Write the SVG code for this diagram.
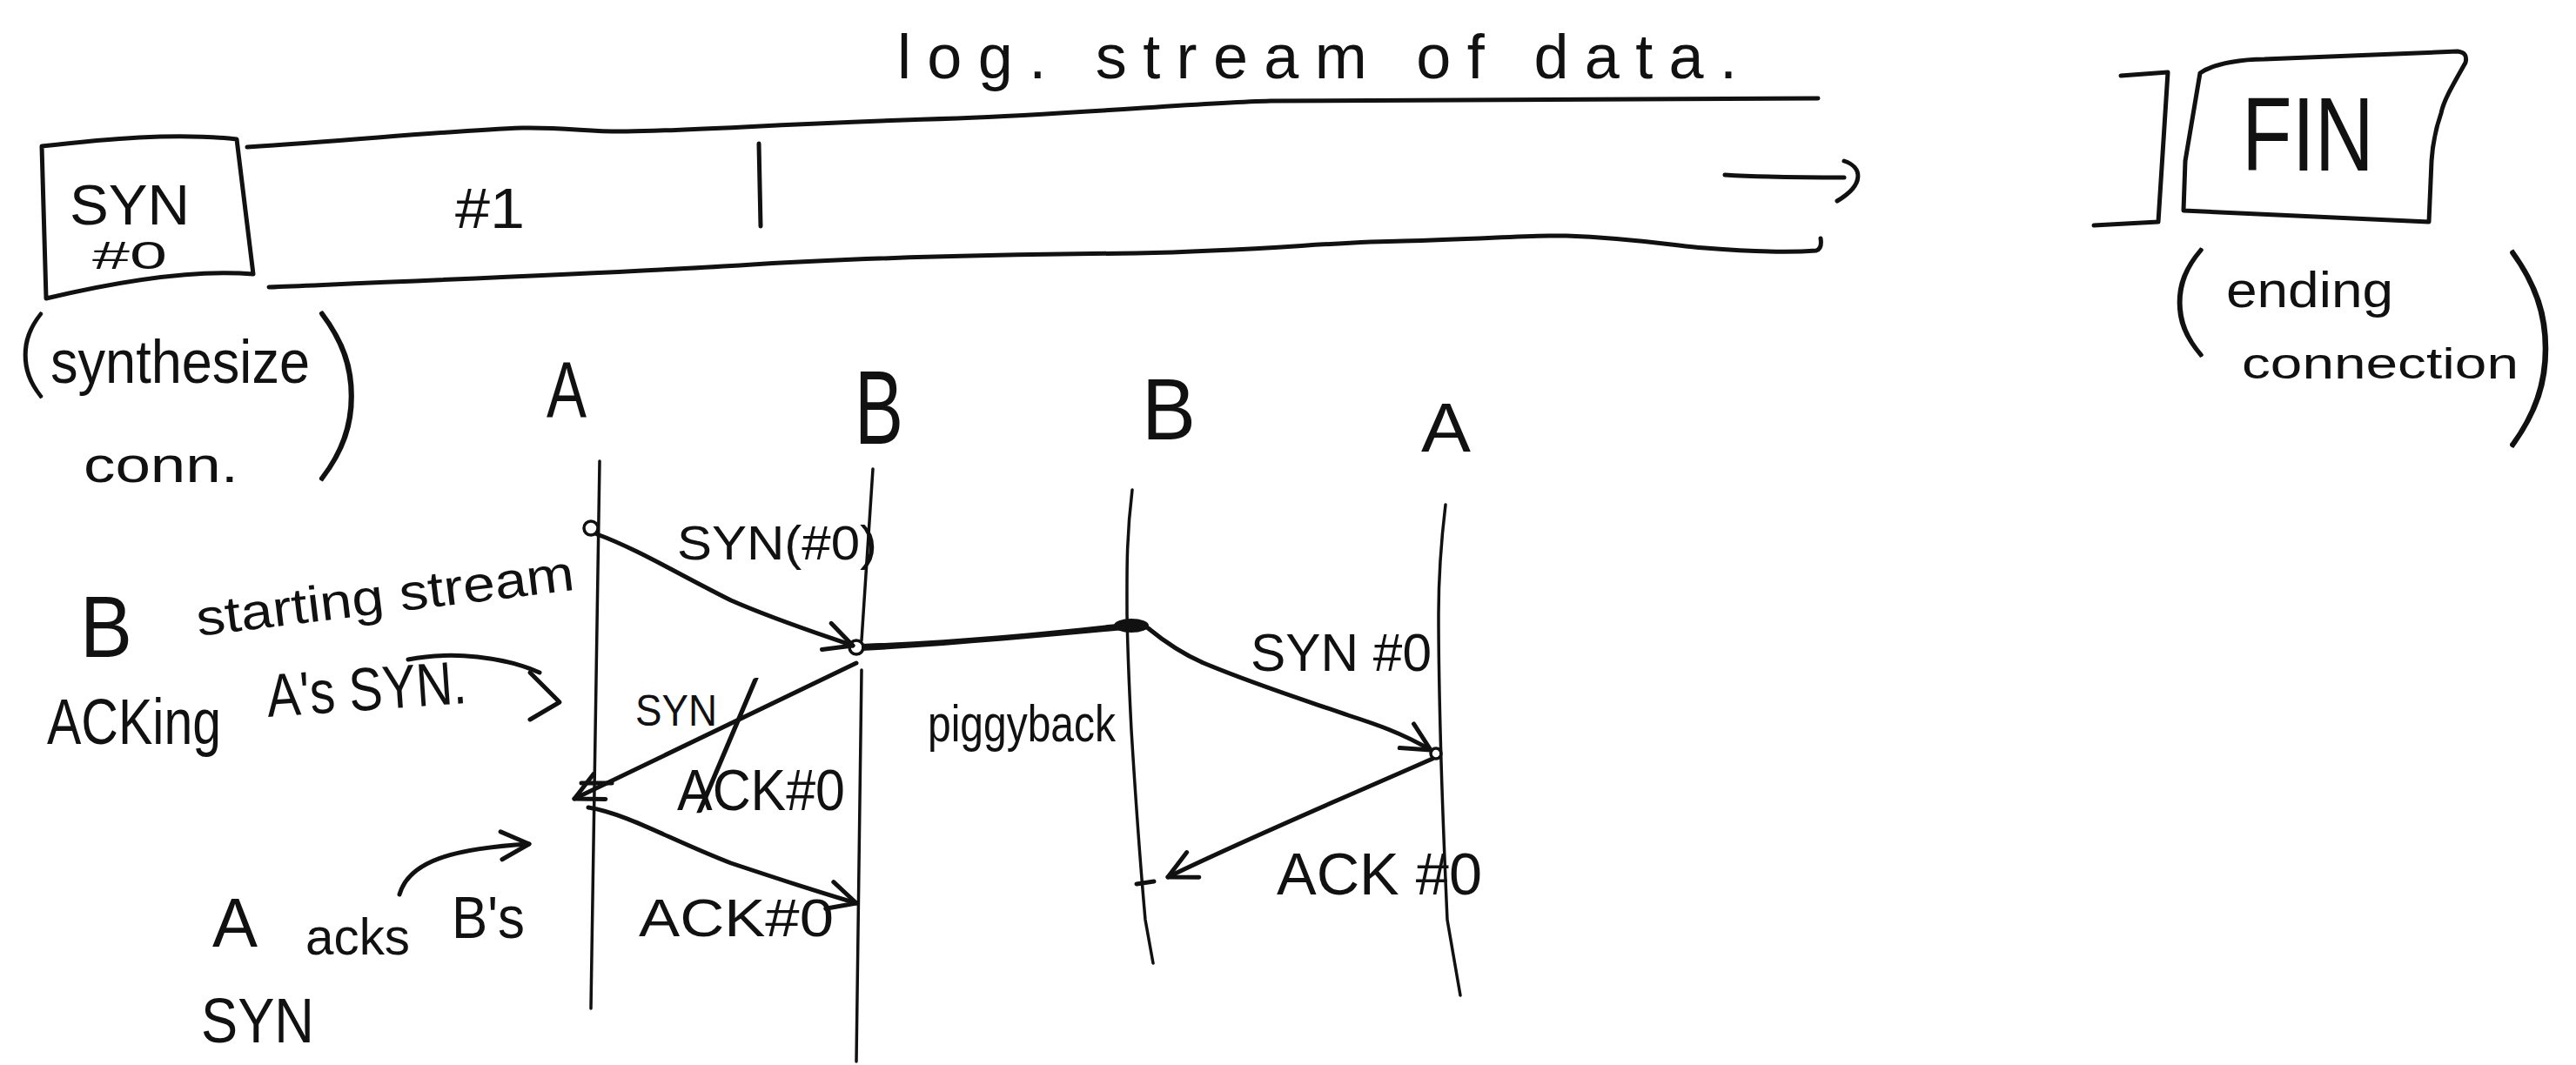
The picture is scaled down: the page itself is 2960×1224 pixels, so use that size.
<svg xmlns="http://www.w3.org/2000/svg" width="2960" height="1224" viewBox="0 0 2960 1224">
<style>
.t{font-family:"Liberation Sans",sans-serif;fill:#111}
.p{font-family:Lato,"Liberation Sans",sans-serif;font-weight:100;fill:#111;stroke:#111;stroke-width:3}
.s{fill:none;stroke:#111;stroke-width:5;stroke-linecap:round;stroke-linejoin:round}
.l{fill:none;stroke:#111;stroke-width:3.5;stroke-linecap:round}
</style>
<defs>
<marker id="arr" viewBox="0 0 20 20" refX="18" refY="10" markerWidth="40" markerHeight="40" markerUnits="userSpaceOnUse" orient="auto">
<path d="M2,2 L18,10 L2,18" fill="none" stroke="#111" stroke-width="2.5" stroke-linecap="round" stroke-linejoin="round"/>
</marker>
</defs>
<rect width="2960" height="1224" fill="#fff"/>

<g id="stream">
<path class="s" d="M284,169 C420,160 520,150 600,147 C650,146 680,152 720,151 C800,150 900,142 1100,136 C1250,130 1380,118 1460,116 L2089,113"/>
<path class="s" d="M309,330 C500,322 700,314 850,305 C1000,295 1200,292 1306,291 C1450,288 1530,278 1612,277 C1700,275 1760,270 1800,271 C1880,274 1920,282 1959,285 C2010,289 2060,290 2087,288 C2093,286 2093,280 2092,274"/>
<path class="s" d="M872,165 L874,260"/>
<path class="s" d="M1982,201 C2030,204 2080,204 2119,204"/>
<path class="s" d="M2119,185 C2140,192 2143,212 2111,231"/>
<text class="t" x="1031" y="90" font-size="72" textLength="965" lengthAdjust="spacing">log. stream of data.</text>
<text class="t" x="523" y="262" font-size="64" textLength="80" lengthAdjust="spacingAndGlyphs">#1</text>
</g>

<g id="syn-box">
<path class="s" d="M48,168 C120,160 200,152 272,160 L291,315 C230,310 150,320 53,343 Z"/>
<text class="t" x="80" y="258" font-size="64" textLength="138" lengthAdjust="spacingAndGlyphs">SYN</text>
<text class="t" x="106" y="309" font-size="44" textLength="86" lengthAdjust="spacingAndGlyphs">#0</text>
</g>

<g id="synthesize-note">
<text class="p" x="0" y="0" font-size="110" transform="translate(20,443) scale(1.2,1)">(</text>
<text class="t" x="58" y="440" font-size="70" textLength="298" lengthAdjust="spacingAndGlyphs">synthesize</text>
<text class="t" x="96" y="554" font-size="58" textLength="178" lengthAdjust="spacingAndGlyphs">conn.</text>
<text class="p" x="0" y="0" font-size="220" transform="translate(358,525) scale(1.15,1)">)</text>
</g>

<g id="fin-end">
<path class="s" d="M2437,87 L2491,83 L2480,255 L2406,259"/>
<path class="s" d="M2528,84 C2545,72 2580,68 2602,68 L2824,59 C2832,60 2835,64 2833,72 C2820,95 2808,115 2805,130 C2798,150 2795,170 2794,185 L2791,255 L2509,242 L2511,185 Z"/>
<text class="t" x="2576" y="196" font-size="120" textLength="152" lengthAdjust="spacingAndGlyphs">FIN</text>
</g>

<g id="ending-note">
<text class="p" x="0" y="0" font-size="140" transform="translate(2492,392) scale(1.3,1)">(</text>
<text class="t" x="2558" y="353" font-size="58" textLength="192" lengthAdjust="spacingAndGlyphs">ending</text>
<text class="t" x="2576" y="435" font-size="50" textLength="318" lengthAdjust="spacingAndGlyphs">connection</text>
<text class="p" x="0" y="0" font-size="245" transform="translate(2874,482) scale(1.15,1.05)">)</text>
</g>

<g id="lifeline-A1">
<text class="t" x="628" y="479" font-size="90" textLength="46" lengthAdjust="spacingAndGlyphs">A</text>
<path class="l" d="M689,530 L679,1159"/>
</g>
<g id="lifeline-B1">
<text class="t" x="982" y="510" font-size="120" textLength="56" lengthAdjust="spacingAndGlyphs">B</text>
<path class="l" d="M1003,539 L990,736"/>
<path class="l" d="M990,770 L984,1220"/>
</g>
<g id="lifeline-B2">
<text class="t" x="1312" y="505" font-size="100" textLength="62" lengthAdjust="spacingAndGlyphs">B</text>
<path class="l" d="M1301,563 C1294,620 1295,660 1295,706 C1296,760 1298,800 1300,839 C1305,920 1310,990 1316,1057 L1325,1107"/>
</g>
<g id="lifeline-A2">
<text class="t" x="1633" y="519" font-size="80" textLength="57" lengthAdjust="spacingAndGlyphs">A</text>
<path class="l" d="M1661,580 C1655,630 1653,670 1653,706 C1653,760 1654,800 1655,839 C1657,920 1660,990 1663,1057 L1678,1144"/>
</g>

<g id="connectors">
<circle class="l" cx="679" cy="607" r="8"/>
<path class="s" d="M686,614 C730,630 780,660 840,690 C890,712 940,728 980,742" marker-end="url(#arr)"/>
<circle class="l" cx="984" cy="744" r="8"/>
<path d="M990,740 C1100,736 1200,726 1292,716 L1292,724 C1200,732 1100,742 990,748 Z" fill="#111"/>
<ellipse cx="1300" cy="719" rx="20" ry="8" fill="#111"/>
<path class="s" d="M984,762 L660,918" marker-end="url(#arr)"/>
<path class="s" d="M668,900 L703,900"/>
<path class="s" d="M676,928 C720,935 770,965 840,992 C900,1012 950,1028 984,1038" marker-end="url(#arr)"/>
<path class="s" d="M1318,721 C1335,735 1355,750 1383,762 C1440,786 1500,805 1549,822 C1580,832 1610,842 1644,862" marker-end="url(#arr)"/>
<circle class="l" cx="1650" cy="866" r="6"/>
<path class="s" d="M1646,872 C1560,910 1430,965 1342,1008" marker-end="url(#arr)"/>
<path class="s" d="M1306,1016 L1326,1013"/>
<path class="s" d="M469,758 C520,748 580,755 620,773"/>
<path class="s" d="M609,773 L643,807 L609,827"/>
<path class="s" d="M459,1028 C470,990 520,975 608,970" marker-end="url(#arr)"/>
</g>

<g id="labels">
<text class="t" x="778" y="643" font-size="55" textLength="230" lengthAdjust="spacingAndGlyphs">SYN(#0)</text>
<text class="t" x="730" y="834" font-size="50" textLength="94" lengthAdjust="spacingAndGlyphs">SYN</text>
<text class="p" x="794" y="925" font-size="200">/</text>
<text class="t" x="778" y="931" font-size="66" textLength="193" lengthAdjust="spacingAndGlyphs">ACK#0</text>
<text class="t" x="734" y="1076" font-size="62" textLength="224" lengthAdjust="spacingAndGlyphs">ACK#0</text>
<text class="t" x="1066" y="852" font-size="60" textLength="216" lengthAdjust="spacingAndGlyphs">piggyback</text>
<text class="t" x="1437" y="771" font-size="62" textLength="208" lengthAdjust="spacingAndGlyphs">SYN #0</text>
<text class="t" x="1467" y="1028" font-size="68" textLength="236" lengthAdjust="spacingAndGlyphs">ACK #0</text>
</g>

<g id="note-B">
<text class="t" x="92" y="755" font-size="100" textLength="60" lengthAdjust="spacingAndGlyphs">B</text>
<text class="t" x="228" y="731" font-size="58" textLength="437" lengthAdjust="spacingAndGlyphs" transform="rotate(-7 228 731)">starting stream</text>
<text class="t" x="54" y="855" font-size="75" textLength="200" lengthAdjust="spacingAndGlyphs">ACKing</text>
<text class="t" x="308" y="824" font-size="70" textLength="230" lengthAdjust="spacingAndGlyphs" transform="rotate(-4 308 824)">A's SYN.</text>
</g>

<g id="note-A">
<text class="t" x="244" y="1088" font-size="80" textLength="52" lengthAdjust="spacingAndGlyphs">A</text>
<text class="t" x="351" y="1097" font-size="60" textLength="120" lengthAdjust="spacingAndGlyphs">acks</text>
<text class="t" x="519" y="1078" font-size="68" textLength="84" lengthAdjust="spacingAndGlyphs">B's</text>
<text class="t" x="231" y="1198" font-size="72" textLength="130" lengthAdjust="spacingAndGlyphs">SYN</text>
</g>
</svg>
